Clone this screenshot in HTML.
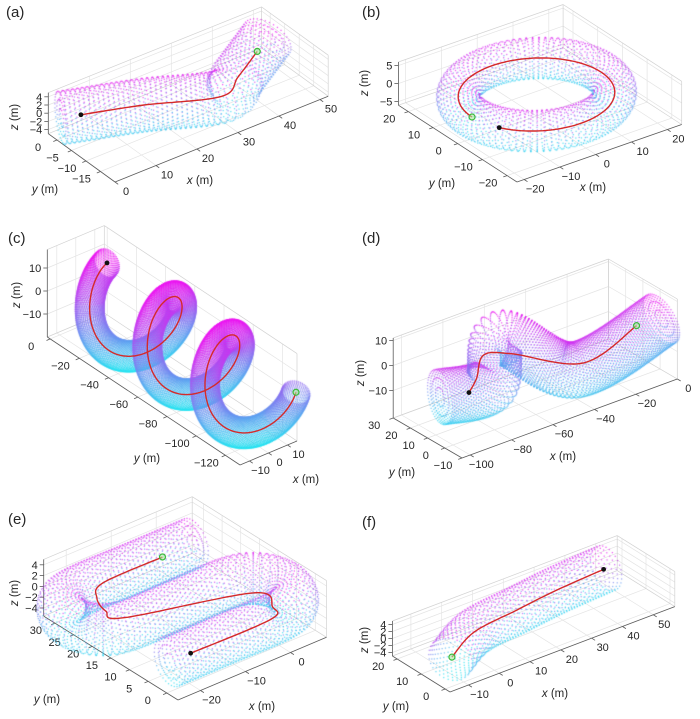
<!DOCTYPE html>
<html><head><meta charset="utf-8"><title>Tube trajectories</title>
<style>
html,body{margin:0;padding:0;background:#fff;}
#wrap{position:relative;width:700px;height:719px;overflow:hidden;background:#fff;}
svg,canvas{position:absolute;left:0;top:0;}
text{font-family:"Liberation Sans",sans-serif;fill:#262626;}
</style></head>
<body>
<div id="wrap">
<svg id="axes-layer" width="700" height="719"></svg>
<canvas id="dots" width="700" height="719"></canvas>
<svg id="paths-layer" width="700" height="719"></svg>
</div>
<script>
// ---------- data: panel (a) ----------
const aXTicks=[0,10,20,30,40,50];
const aYTicks=[0,-5,-10,-15];
const aZTicks=[-4,-2,0,2,4];
const aPathX=[3,15,29,35,41.7];
const aPathY=[-4,-8.8,-15.7,-13,-10.1];
const aPathZ=[2,2,2,3,5];
const aTubeRadius=[5.5];
// ---------- data: panel (b) ----------
const bXTicks=[-20,-10,0,10,20];
const bYTicks=[-20,-10,0,10,20];
const bZTicks=[-5,0,5];
const bRingRadius=[18];
const bTubeRadius=[5];
const bPathDeg=[207,540];
// ---------- data: panel (c) ----------
const cXTicks=[-10,0,10];
const cYTicks=[0,-20,-40,-60,-80,-100,-120];
const cZTicks=[-10,0,10];
const cHelixRadius=[16];
const cTubeRadius=[6];
const cHelixY=[-19.4,-128];
const cHelixTurnRad=[Math.PI/2,6*Math.PI];
// ---------- data: panel (d) ----------
const dXTicks=[-100,-80,-60,-40,-20,0];
const dYTicks=[-10,0,10,20,30];
const dZTicks=[-10,0,10];
const dPathX=[-89,-82,-72,-63,-40,-18];
const dPathY=[4,8,16,10.6,-3.6,-8];
const dPathZ=[-5,-3,0,0,-5,5];
const dTubeX=[-99.8,-79,-68,-48.7,-6.4];
const dTubeY=[7.8,3.9,10,-9,-9.2];
const dTubeZ=[-5,-5,8,-3,5];
const dTubeRadius=[10];
// ---------- data: panel (e) ----------
const eXTicks=[-20,-10,0];
const eYTicks=[0,5,10,15,20,25,30];
const eZTicks=[-4,-2,0,2,4];
const ePathX=[-19.7,-2,1,1.4,-21,-22,-20.4,-16.4,-3];
const ePathY=[0,0,3,8.7,16.3,20,24.3,27.5,27.7];
const ePathZ=[0,0,0,0,0,0,0,0,0];
const eTubeX=[-24.3,-12,0,4.95,7,4.95,0,-11,-22,-26.95,-29,-26.95,-22,-9,4];
const eTubeY=[0,0,0,2.05,7,11.95,14,14,14,16.05,21,25.95,28,28,28];
const eTubeZ=[0,0,0,0,0,0,0,0,0,0,0,0,0,0,0];
const eTubeRadius=[4.2];
// ---------- data: panel (f) ----------
const fXTicks=[-10,0,10,20,30,40,50];
const fYTicks=[0,10,20];
const fZTicks=[-4,-2,0,2,4];
const fPathX=[-10,2.6,18.4,33,49];
const fPathY=[4.9,11.8,14.2,16.2,17.4];
const fPathZ=[0,0,0,0,0];
const fTubeRadius=[6];
</script>
<script>
const NS='http://www.w3.org/2000/svg';
const axL=document.getElementById('axes-layer');
const pL=document.getElementById('paths-layer');
const ctx=document.getElementById('dots').getContext('2d');

const layouts=[
 {id:'a',o:[115,182],ex:[4.1,-1.65],ey:[-2.9,-2.1],ez:[0,-4.1],xr:[0,52],yr:[-20,3],zr:[-5,5],
  letter:[6,17],xt:[200,184],yt:[45,193],zt:[18,117],nA:36,step:1.0,ext:4,wG:0.25},
 {id:'b',o:[517,182],ex:[3.58,-1.25],ey:[-2.47,-1.6],ez:[0,-3.6],xr:[-22,24],yr:[-24,24],zr:[-6,6],
  letter:[362,17],xt:[593,191],yt:[442,187],zt:[368,83],nA:28,step:1.3,ext:0,wG:0.1},
 {id:'c',o:[240,465],ex:[1.9,-0.8],ey:[-1.46,-0.97],ez:[0,-2.3],xr:[-15,15],yr:[-130,2],zr:[-20,18],
  letter:[8,243],xt:[306,483],yt:[147,462],zt:[20,295],nA:44,step:0.55,ext:0,wG:0.85},
 {id:'d',o:[462,458],ex:[2.07,-0.76],ey:[-1.72,-1.0],ez:[0,-2.5],xr:[-104,0],yr:[-10,30],zr:[-21,11],
  letter:[362,243],xt:[563,460],yt:[402,476],zt:[364,373],nA:52,step:1.0,ext:0,wG:0.35},
 {id:'e',o:[178,700],ex:[4.5,-1.9],ey:[-3.73,-2.33],ez:[0,-5.4],xr:[-25,8],yr:[-3,33],zr:[-5.5,5],
  letter:[8,524],xt:[262,710],yt:[47,703],zt:[18,593],nA:34,step:0.9,ext:0,wG:0.2},
 {id:'f',o:[450,692],ex:[3.08,-1.17],ey:[-2.4,-1.5],ez:[0,-3.5],xr:[-16,57],yr:[-2,22],zr:[-5,5],
  letter:[362,527],xt:[555,697],yt:[396,710],zt:[368,640],nA:30,step:1.4,ext:1,wG:0.2}
];
const ticks={a:[aXTicks,aYTicks,aZTicks],b:[bXTicks,bYTicks,bZTicks],c:[cXTicks,cYTicks,cZTicks],
 d:[dXTicks,dYTicks,dZTicks],e:[eXTicks,eYTicks,eZTicks],f:[fXTicks,fYTicks,fZTicks]};

function P(L,x,y,z){
 const a=x-L.xr[0],b=y-L.yr[0],c=z-L.zr[0];
 return [L.o[0]+a*L.ex[0]+b*L.ey[0]+c*L.ez[0], L.o[1]+a*L.ex[1]+b*L.ey[1]+c*L.ez[1]];
}
function line(parent,p,q,col,w){
 const e=document.createElementNS(NS,'line');
 e.setAttribute('x1',p[0].toFixed(1));e.setAttribute('y1',p[1].toFixed(1));
 e.setAttribute('x2',q[0].toFixed(1));e.setAttribute('y2',q[1].toFixed(1));
 e.setAttribute('stroke',col);e.setAttribute('stroke-width',w);
 parent.appendChild(e);return e;
}
function txt(parent,x,y,s,size,anchor){
 const e=document.createElementNS(NS,'text');
 e.setAttribute('x',x.toFixed(1));e.setAttribute('y',y.toFixed(1));
 e.setAttribute('font-size',size);e.setAttribute('text-anchor',anchor);
 e.textContent=s;parent.appendChild(e);return e;
}
function fmt(v){return v<0?'\u2212'+Math.abs(v):String(v);}

function drawAxes(L){
 const g=document.createElementNS(NS,'g');
 
 
 axL.appendChild(g);
 const [xt,yt,zt]=ticks[L.id];
 const [x0,x1]=L.xr,[y0,y1]=L.yr,[z0,z1]=L.zr;
 const gc='#e4e4e4',gw=0.7;
 xt.forEach(x=>{
  const l1=line(g,P(L,x,y0,z0),P(L,x,y1,z0),gc,gw);
  
  
  const l2=line(g,P(L,x,y1,z0),P(L,x,y1,z1),gc,gw);
  
  
 });
 yt.forEach(y=>{
  const l1=line(g,P(L,x0,y,z0),P(L,x1,y,z0),gc,gw);
  
  
  const l2=line(g,P(L,x1,y,z0),P(L,x1,y,z1),gc,gw);
  
  
 });
 zt.forEach(z=>{
  const l1=line(g,P(L,x0,y1,z),P(L,x1,y1,z),gc,gw);
  
  
  const l2=line(g,P(L,x1,y0,z),P(L,x1,y1,z),gc,gw);
  
  
 });
 const bc='#d2d2d2';
 [[[x0,y1,z1],[x1,y1,z1]],[[x1,y0,z1],[x1,y1,z1]],[[x1,y1,z0],[x1,y1,z1]],[[x1,y0,z0],[x1,y0,z1]],
  [[x0,y1,z0],[x1,y1,z0]],[[x1,y0,z0],[x1,y1,z0]]].forEach(s=>{
  const l=line(g,P(L,...s[0]),P(L,...s[1]),bc,0.7);
  
  
 });
 const ac='#5a5a5a';
 const xa=line(g,P(L,x0,y0,z0),P(L,x1,y0,z0),ac,0.8);
 
 
 const ya=line(g,P(L,x0,y0,z0),P(L,x0,y1,z0),ac,0.8);
 
 
 const za=line(g,P(L,x0,y1,z0),P(L,x0,y1,z1),ac,0.8);
 
 
 const nx=Math.hypot(...L.ey),ny=Math.hypot(...L.ex);
 xt.forEach(x=>{
  const p=P(L,x,y0,z0);
  const d=[-L.ey[0]/nx*4,-L.ey[1]/nx*4];
  const tk=line(g,p,[p[0]+d[0],p[1]+d[1]],ac,0.8);
  
  
  const t=txt(g,p[0]+11,p[1]+13,fmt(x),11,'middle');
  
  
 });
 yt.forEach(y=>{
  const p=P(L,x0,y,z0);
  const d=[-L.ex[0]/ny*4,-L.ex[1]/ny*4];
  const tk=line(g,p,[p[0]+d[0],p[1]+d[1]],ac,0.8);
  
  
  const t=txt(g,p[0]-19,p[1]+11,fmt(y),11,'middle');
  
  
 });
 zt.forEach(z=>{
  const p=P(L,x0,y1,z);
  const tk=line(g,p,[p[0]-4,p[1]],ac,0.8);
  
  
  const t=txt(g,p[0]-6,p[1]+4,fmt(z),11,'end');
  
  
 });
 const tx=txt(g,L.xt[0],L.xt[1],'',11.5,'middle');
 tx.innerHTML='<tspan font-style="italic">x</tspan> (m)';
 
 
 const ty=txt(g,L.yt[0],L.yt[1],'',11.5,'middle');
 ty.innerHTML='<tspan font-style="italic">y</tspan> (m)';
 
 
 const tz=txt(g,0,0,'',11.5,'middle');
 tz.innerHTML='<tspan font-style="italic">z</tspan> (m)';
 tz.setAttribute('transform','translate('+L.zt[0]+','+L.zt[1]+') rotate(-90)');
 
 
 const tl=txt(g,L.letter[0],L.letter[1],'('+L.id+')',15,'start');
 
 
}

function sub(a,b){return [a[0]-b[0],a[1]-b[1],a[2]-b[2]];}
function add(a,b){return [a[0]+b[0],a[1]+b[1],a[2]+b[2]];}
function mul(a,s){return [a[0]*s,a[1]*s,a[2]*s];}
function nrm(a){const l=Math.hypot(a[0],a[1],a[2])||1;return [a[0]/l,a[1]/l,a[2]/l];}
function cross(a,b){return [a[1]*b[2]-a[2]*b[1],a[2]*b[0]-a[0]*b[2],a[0]*b[1]-a[1]*b[0]];}
function catmull(pts,n){
 const out=[];
 for(let i=0;i<pts.length-1;i++){
  const p0=pts[Math.max(i-1,0)],p1=pts[i],p2=pts[i+1],p3=pts[Math.min(i+2,pts.length-1)];
  for(let s=0;s<n;s++){
   const t=s/n,t2=t*t,t3=t2*t;
   out.push([0,1,2].map(k=>0.5*((2*p1[k])+(-p0[k]+p2[k])*t+(2*p0[k]-5*p1[k]+4*p2[k]-p3[k])*t2+(-p0[k]+3*p1[k]-3*p2[k]+p3[k])*t3)));
  }
 }
 out.push(pts[pts.length-1]);return out;
}
function resample(d,step){
 const out=[d[0]];let acc=0;
 for(let i=1;i<d.length;i++){
  let seg=Math.hypot(...sub(d[i],d[i-1]));let a=d[i-1];
  while(acc+seg>=step){
   const f=(step-acc)/seg;const np=add(a,mul(sub(d[i],a),f));
   out.push(np);seg-=(step-acc);a=np;acc=0;
  }
  acc+=seg;
 }
 return out;
}
function colorFor(t){
 t=Math.max(0,Math.min(1,t));
 return 'rgba('+Math.round(30+205*t)+','+Math.round(225*(1-t)+20*t)+',240,0.75)';
}
function tube(L,dense,r,closed){
 let c=dense.slice();
 if(L.ext>0){
  const T0=nrm(sub(c[1],c[0])),T1=nrm(sub(c[c.length-1],c[c.length-2]));
  const pre=[],post=[];
  for(let e=L.ext;e>0;e-=0.5){pre.push(add(c[0],mul(T0,-e)));}
  for(let e=0.5;e<=L.ext;e+=0.5){post.push(add(c[c.length-1],mul(T1,e)));}
  c=pre.concat(c,post);
 }
 const s=resample(c,L.step);
 const n=L.nA,zr=L.zr;
 function ring(i,rr,nn){
  const prev=s[Math.max(i-1,0)],next=s[Math.min(i+1,s.length-1)];
  const T=nrm(sub(next,prev));
  let N=cross(T,[0,0,1]);
  if(Math.hypot(...N)<1e-3)N=[0,1,0];
  N=nrm(N);const B=cross(N,T);
  for(let k=0;k<nn;k++){
   const th=2*Math.PI*k/nn+(i%2)*Math.PI/nn;
   const off=add(mul(N,Math.cos(th)),mul(B,Math.sin(th)));
   const p=add(s[i],mul(off,rr));
   const tl=(off[2]+1)/2,tg=(p[2]-zr[0])/(zr[1]-zr[0]);
   ctx.fillStyle=colorFor(L.wG*tg+(1-L.wG)*tl);
   const q=P(L,p[0],p[1],p[2]);
   ctx.fillRect(q[0]-0.6,q[1]-0.6,1.25,1.25);
  }
 }
 for(let i=0;i<s.length;i++)ring(i,r,n);
 if(!closed){
  [0,s.length-1].forEach(i=>{[0.35,0.7].forEach(f=>ring(i,r*f,Math.round(n*f)));});
 }
}
function redPath(L,dense,name){
 const d=dense.map(p=>P(L,p[0],p[1],p[2]).map(v=>v.toFixed(1)).join(',')).join(' ');
 const pl=document.createElementNS(NS,'polyline');
 pl.setAttribute('points',d);pl.setAttribute('fill','none');
 pl.setAttribute('stroke','#d42a2a');pl.setAttribute('stroke-width','1.4');
 
 
 pL.appendChild(pl);
 const s=P(L,...dense[0]),e=P(L,...dense[dense.length-1]);
 const st=document.createElementNS(NS,'circle');
 st.setAttribute('cx',s[0]);st.setAttribute('cy',s[1]);st.setAttribute('r','2.4');st.setAttribute('fill','#111');
 
 
 pL.appendChild(st);
 const en=document.createElementNS(NS,'circle');
 en.setAttribute('cx',e[0]);en.setAttribute('cy',e[1]);en.setAttribute('r','3');
 en.setAttribute('fill','rgba(170,235,160,0.6)');en.setAttribute('stroke','#3dbb3d');en.setAttribute('stroke-width','1.2');
 
 
 pL.appendChild(en);
}
function zip(X,Y,Z){return X.map((x,i)=>[x,Y[i],Z[i]]);}

layouts.forEach(drawAxes);
const LA=layouts[0],LB=layouts[1],LC=layouts[2],LD=layouts[3],LE=layouts[4],LF=layouts[5];

const aDense=catmull(zip(aPathX,aPathY,aPathZ),20);
tube(LA,aDense,aTubeRadius[0],false);redPath(LA,aDense,'trajectory-a');

const bRing=[];for(let i=0;i<=180;i++){const f=2*Math.PI*i/180;bRing.push([bRingRadius[0]*Math.cos(f),bRingRadius[0]*Math.sin(f),0]);}
tube(LB,bRing,bTubeRadius[0],true);
const bPath=[];for(let i=0;i<=180;i++){const f=(bPathDeg[0]+(bPathDeg[1]-bPathDeg[0])*i/180)*Math.PI/180;bPath.push([bRingRadius[0]*Math.cos(f),bRingRadius[0]*Math.sin(f),0]);}
redPath(LB,bPath,'trajectory-b');

const cDense=[];for(let i=0;i<=600;i++){const u=i/600,t=cHelixTurnRad[0]+(cHelixTurnRad[1]-cHelixTurnRad[0])*u;
 cDense.push([cHelixRadius[0]*Math.cos(t),cHelixY[0]+(cHelixY[1]-cHelixY[0])*u,cHelixRadius[0]*Math.sin(t)]);}
tube(LC,cDense,cTubeRadius[0],true);redPath(LC,cDense,'trajectory-c');

const dTubeDense=catmull(zip(dTubeX,dTubeY,dTubeZ),24);
tube(LD,dTubeDense,dTubeRadius[0],false);
const dDense=catmull(zip(dPathX,dPathY,dPathZ),20);
redPath(LD,dDense,'trajectory-d');

const eTubeDense=catmull(zip(eTubeX,eTubeY,eTubeZ),12);
tube(LE,eTubeDense,eTubeRadius[0],false);
const eDense=catmull(zip(ePathX,ePathY,ePathZ),20);
redPath(LE,eDense,'trajectory-e');

const fDense=catmull(zip(fPathX,fPathY,fPathZ),20);
tube(LF,fDense,fTubeRadius[0],true);
redPath(LF,fDense.slice().reverse(),'trajectory-f');
</script>
</body></html>
